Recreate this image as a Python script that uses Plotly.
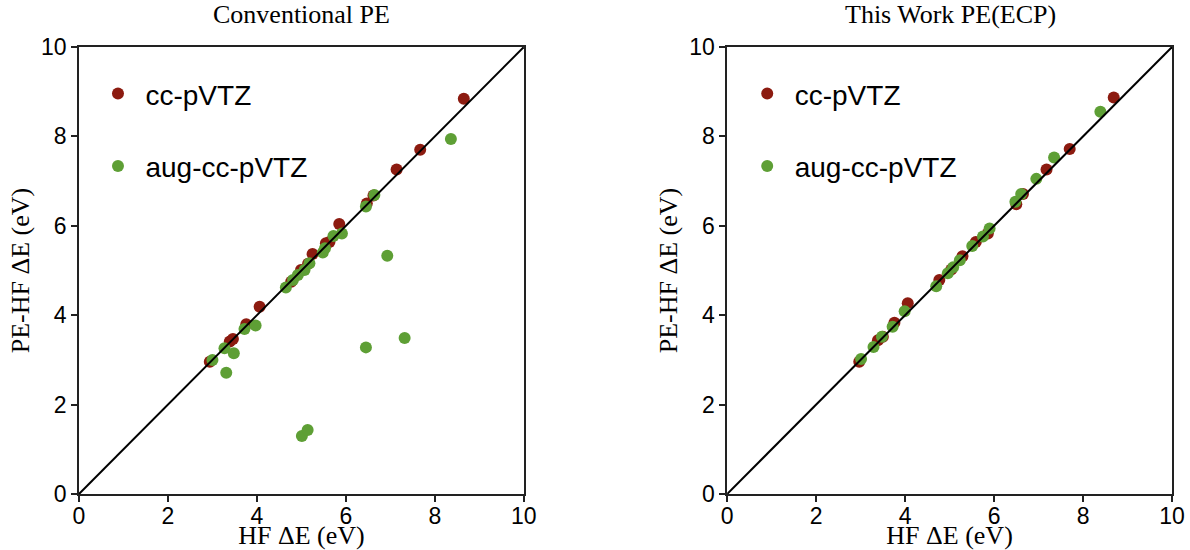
import plotly.graph_objects as go
from plotly.subplots import make_subplots

# Conventional PE panel
conv_cc_x = [2.94, 3.39, 3.46, 3.76, 4.06, 4.77, 4.99, 5.15, 5.25, 5.55, 5.63, 5.85, 6.47, 6.62, 7.14, 7.67, 8.65]
conv_cc_y = [2.96, 3.41, 3.47, 3.80, 4.19, 4.75, 5.01, 5.15, 5.37, 5.61, 5.64, 6.04, 6.50, 6.68, 7.26, 7.70, 8.84]
conv_aug_x = [3.00, 3.27, 3.31, 3.48, 3.72, 3.97, 4.65, 4.81, 4.92, 5.01, 5.07, 5.14, 5.18, 5.48, 5.53,
              5.72, 5.91, 6.45, 6.45, 6.64, 6.93, 7.32, 8.36]
conv_aug_y = [3.00, 3.26, 2.71, 3.15, 3.69, 3.77, 4.62, 4.79, 4.90, 1.30, 5.01, 1.43, 5.16, 5.40, 5.50,
              5.77, 5.83, 6.43, 3.28, 6.69, 5.33, 3.49, 7.94]

# This Work PE(ECP) panel
ecp_cc_x = [2.97, 3.39, 3.50, 3.76, 4.06, 4.77, 5.04, 5.29, 5.59, 5.86, 6.50, 6.65, 7.18, 7.70, 8.69]
ecp_cc_y = [2.96, 3.44, 3.52, 3.83, 4.27, 4.79, 5.02, 5.32, 5.64, 5.83, 6.48, 6.71, 7.26, 7.72, 8.87]
ecp_aug_x = [3.01, 3.29, 3.48, 3.72, 3.99, 4.70, 4.96, 5.08, 5.23, 5.51, 5.75, 5.90, 6.48, 6.61, 6.95, 7.35, 8.39]
ecp_aug_y = [3.02, 3.29, 3.52, 3.74, 4.09, 4.65, 4.94, 5.07, 5.23, 5.55, 5.76, 5.94, 6.54, 6.71, 7.05, 7.53, 8.55]

diag = [0, 10]
tick_vals = [0, 2, 4, 6, 8, 10]

RED = "#8C1B10"
GREEN = "#5E9F35"
SERIF = "Liberation Serif, Times New Roman, serif"
SANS = "Liberation Sans, Arial, sans-serif"

fig = make_subplots(rows=1, cols=2, horizontal_spacing=0.186)

panels = [
    (1, "legend", conv_cc_x, conv_cc_y, conv_aug_x, conv_aug_y),
    (2, "legend2", ecp_cc_x, ecp_cc_y, ecp_aug_x, ecp_aug_y),
]
for col, leg, cx, cy, ax, ay in panels:
    fig.add_trace(go.Scatter(
        x=cx, y=cy, mode="markers", name="cc-pVTZ",
        marker=dict(color=RED, size=12),
        legend=leg, legendgroup=f"cc{col}",
    ), row=1, col=col)
    fig.add_trace(go.Scatter(
        x=ax, y=ay, mode="markers", name="aug-cc-pVTZ",
        marker=dict(color=GREEN, size=12),
        legend=leg, legendgroup=f"aug{col}",
    ), row=1, col=col)
    fig.add_trace(go.Scatter(
        x=diag, y=diag, mode="lines",
        line=dict(color="black", width=2),
        showlegend=False, hoverinfo="skip",
    ), row=1, col=col)

axis_common = dict(
    range=[0, 10], tickvals=tick_vals, ticks="outside", ticklen=6, tickwidth=1.5,
    tickcolor="#222", showline=True, linecolor="#222", linewidth=1.5, mirror=True,
    showgrid=False, zeroline=False, automargin=False,
    tickfont=dict(family=SANS, size=23, color="black"),
)
for col in (1, 2):
    fig.update_xaxes(
        title=dict(text="HF ΔE (eV)", font=dict(family=SERIF, size=26, color="black"), standoff=1),
        ticklabelstandoff=-5,
        **axis_common, row=1, col=col,
    )
    fig.update_yaxes(
        title=dict(text="PE-HF ΔE (eV)", font=dict(family=SERIF, size=26, color="black"), standoff=4),
        **axis_common, row=1, col=col,
    )

legend_style = dict(
    font=dict(family=SANS, size=28, color="black"),
    bgcolor="rgba(0,0,0,0)", traceorder="grouped", tracegroupgap=33,
    itemwidth=45, xanchor="left", yanchor="top",
)
fig.update_layout(
    width=1190, height=550,
    margin=dict(l=79, r=18, t=47, b=56),
    plot_bgcolor="white", paper_bgcolor="white",
    legend=dict(x=0.0105, y=0.951, **legend_style),
    legend2=dict(x=0.6045, y=0.951, **legend_style),
    annotations=[
        dict(text="Conventional PE", x=0.204, y=1.0, xref="paper", yref="paper",
             xanchor="center", yanchor="bottom", yshift=16, showarrow=False,
             font=dict(family=SERIF, size=26, color="black")),
        dict(text="This Work PE(ECP)", x=0.797, y=1.0, xref="paper", yref="paper",
             xanchor="center", yanchor="bottom", yshift=16, showarrow=False,
             font=dict(family=SERIF, size=26, color="black")),
    ],
)

# drop the default 8px body margin so the figure fills the window exactly
fig.write_html(
    "out.html",
    config={"displayModeBar": False},
    post_script="document.body.style.margin = '0px';",
)
